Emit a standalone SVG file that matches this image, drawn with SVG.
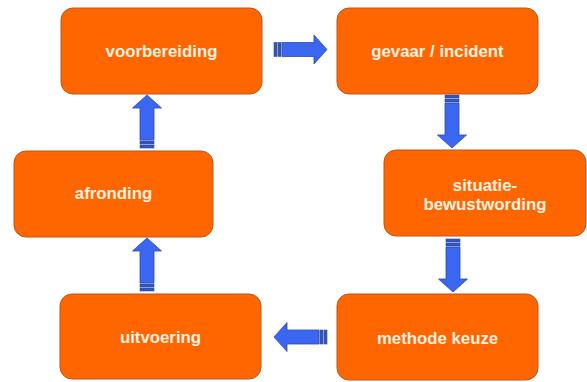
<svg xmlns="http://www.w3.org/2000/svg" xmlns:xlink="http://www.w3.org/1999/xlink" width="587" height="382" viewBox="0 0 587 382">
<style>
.box{fill:#FF6600;stroke:#B8561E;stroke-width:1}
.lbl{font-family:"Liberation Sans",Arial,sans-serif;font-weight:bold;font-size:16.8px;fill:#FFF3E3;text-anchor:middle;dominant-baseline:central}
.arw{fill:#3A66F2;stroke:#2B4BA8;stroke-width:0.8}
.stp{fill:#3356B8;stroke:#2B4BA8;stroke-width:0.6}
</style>
<defs>
<g id="arrow">
<rect class="stp" x="0" y="-7" width="3" height="14"/>
<rect class="stp" x="4" y="-7" width="3" height="14"/>
<path class="arw" d="M8,-7 H40 V-14.5 L53,0 L40,14.5 V7 H8 Z"/>
</g>
</defs>
<rect width="587" height="382" fill="#FFFFFF"/>
<g id="connectors">
<use xlink:href="#arrow" transform="translate(274,49.5)"/>
<use xlink:href="#arrow" transform="translate(452,95) rotate(90)"/>
<use xlink:href="#arrow" transform="translate(453,239) rotate(90)"/>
<use xlink:href="#arrow" transform="translate(327,337) rotate(180)"/>
<use xlink:href="#arrow" transform="translate(147,291) rotate(-90)"/>
<use xlink:href="#arrow" transform="translate(147,148) rotate(-90)"/>
</g>
<g id="voorbereiding">
<rect class="box" x="61" y="8" width="201" height="86" rx="12"/>
<text class="lbl" x="161.5" y="51">voorbereiding</text>
</g>
<g id="gevaar">
<rect class="box" x="337" y="8" width="201" height="86" rx="12"/>
<text class="lbl" x="437.5" y="51">gevaar / incident</text>
</g>
<g id="situatie">
<rect class="box" x="384" y="150" width="202" height="86" rx="12"/>
<text class="lbl" x="485" y="185">situatie-</text>
<text class="lbl" x="485" y="204">bewustwording</text>
</g>
<g id="methode">
<rect class="box" x="337" y="294" width="201" height="86" rx="12"/>
<text class="lbl" x="437.5" y="338">methode keuze</text>
</g>
<g id="uitvoering">
<rect class="box" x="60" y="294" width="201" height="85" rx="12"/>
<text class="lbl" x="160.5" y="337">uitvoering</text>
</g>
<g id="afronding">
<rect class="box" x="14" y="151" width="199" height="86" rx="12"/>
<text class="lbl" x="113.5" y="193">afronding</text>
</g>
</svg>
